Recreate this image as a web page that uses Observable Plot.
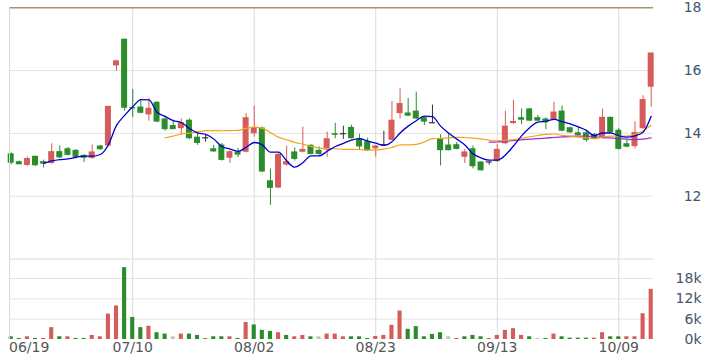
<!DOCTYPE html>
<html><head><meta charset="utf-8">
<script src="https://cdn.jsdelivr.net/npm/d3@7"></script>
<script src="https://cdn.jsdelivr.net/npm/@observablehq/plot@0.6"></script>
<style>
html,body{margin:0;padding:0;background:#fff;}
#chart{width:711px;height:361px;overflow:hidden;position:relative;}
#chart svg{display:block;}
</style></head><body><div id="chart"></div>
<script>
// ---- data ----
const open  = [13.35,13.10,12.98,13.27,13.10,13.04,13.42,13.51,13.46,13.30,13.20,13.60,13.60,16.15,17.00,14.82,14.84,14.59,14.99,14.46,
               14.25,14.15,14.42,13.88,13.86,13.51,13.63,13.21,13.41,13.40,13.99,14.17,12.49,12.26,12.99,13.41,13.40,13.62,13.46,13.47,
               13.99,13.99,14.19,13.83,13.73,13.51,13.64,13.78,14.63,14.65,14.71,14.50,14.34,13.83,13.63,13.64,13.24,13.51,13.09,13.09,
               13.10,13.67,14.31,14.50,14.78,14.50,14.46,14.44,14.71,14.18,14.02,14.02,13.97,13.84,14.51,14.10,13.67,13.58,14.15,15.47];
const high  = [13.38,13.12,13.25,13.28,13.15,13.67,13.60,13.55,13.48,13.32,13.63,13.62,14.86,16.33,17.00,15.40,15.06,15.11,15.01,14.53,
               14.42,14.46,14.46,14.00,13.96,13.62,13.68,13.44,13.52,14.63,14.87,14.20,12.87,13.36,13.60,13.54,14.20,13.64,13.57,14.04,
               14.32,14.23,14.26,13.97,13.85,13.62,14.07,15.02,15.42,15.11,15.31,14.53,14.90,13.95,13.99,13.71,13.49,13.60,13.10,13.09,
               13.65,14.71,15.05,14.78,14.80,14.57,14.50,14.99,14.87,14.20,14.20,14.07,14.00,14.78,14.52,14.16,13.81,14.37,15.20,16.56];
const low   = [13.00,13.00,12.95,12.95,12.90,13.02,13.20,13.28,13.19,13.08,13.18,13.46,13.57,15.98,14.70,14.50,14.62,14.39,14.34,14.07,
               14.12,13.95,13.80,13.62,13.72,13.40,13.12,13.04,13.23,13.38,13.88,12.75,11.71,12.25,12.96,13.12,13.38,13.32,13.30,13.24,
               13.83,13.81,13.82,13.47,13.43,13.24,13.62,13.76,14.46,14.53,14.44,14.25,14.31,12.96,13.44,13.48,13.04,12.87,12.80,12.99,
               13.08,13.65,14.30,14.28,14.38,14.38,14.12,14.42,14.05,14.00,13.92,13.72,13.80,13.82,14.00,13.47,13.54,13.51,14.13,14.83];
const close = [13.05,13.00,13.20,12.97,13.02,13.42,13.22,13.30,13.24,13.21,13.41,13.48,14.86,16.31,14.80,14.78,14.64,14.80,14.36,14.12,
               14.12,14.34,13.83,13.68,13.86,13.41,13.14,13.42,13.31,14.50,14.18,12.77,12.25,13.33,13.10,13.17,13.49,13.33,13.33,13.83,
               13.94,13.99,13.83,13.57,13.45,13.60,13.64,14.42,14.95,14.55,14.46,14.36,14.34,13.45,13.45,13.49,13.41,12.94,12.81,13.09,
               13.49,14.23,14.38,14.42,14.39,14.39,14.34,14.68,14.07,14.02,13.93,13.78,13.82,14.51,14.02,13.49,13.56,14.03,15.08,16.56];
const volume = [800,300,800,300,300,3500,800,800,300,300,1200,800,7500,9900,21200,6500,3500,3900,2000,1600,
                800,1600,1600,1200,300,800,800,800,300,5000,4300,2700,2400,2000,1200,800,1200,800,800,1600,
                1600,800,800,800,300,900,1200,4200,8400,3000,3800,800,1500,2000,800,300,800,1200,800,300,
                1200,2700,3200,1200,800,300,300,1600,800,400,400,400,400,2000,800,800,800,800,7600,14800];
const tickIndex  = [0, 15, 30, 45, 60, 75];
const tickLabels = ["06/19", "07/10", "08/02", "08/23", "09/13", "10/09"];
const priceTicks = [12, 14, 16, 18];
const volumeTicks = [0, 6000, 12000, 18000];
const volumeTickLabels = ["0k", "6k", "12k", "18k"];

// ---- table ----
const rows = close.map((c, i) => ({
  i, open: open[i], high: high[i], low: low[i], close: c, volume: volume[i],
  prev: i > 0 ? close[i - 1] : open[i]
}));
const RED = "#d65b5b", GREEN = "#2a8c2a", DOJI = "#333333", FLAT = "#c4c4c4";
const candleColor = d => d.close > d.open ? RED : d.close < d.open ? GREEN : DOJI;
const volColor = d => d.close > d.prev ? RED : d.close < d.prev ? GREEN : FLAT;
const ma = k => (values) => values.length < k ? NaN : d3.mean(values);

const xScale = {domain: [0, 79], range: [10.7, 650.7], axis: null};
const common = {width: 711, marginLeft: 9, marginRight: 58, color: {type: "identity"},
  style: {fontFamily: "DejaVu Sans", fontSize: "14px", background: "#fff", overflow: "visible"}};

const main = Plot.plot({
  ...common, height: 260, marginTop: 7.3, marginBottom: 1.5,
  x: xScale,
  y: {domain: [10, 18], axis: null},
  marks: [
    Plot.ruleY(priceTicks.filter(t => t < 18), {stroke: "#e2e2e2"}),
    Plot.ruleY([10], {stroke: "#dcdcdc"}),
    Plot.ruleX(tickIndex.slice(1), {stroke: "#dadada"}),
    Plot.ruleY([18], {stroke: "#a8927a", strokeWidth: 1.5}),
    Plot.ruleX(rows, {x: "i", y1: "low", y2: "high", stroke: candleColor, strokeWidth: 1}),
    Plot.rect(rows.filter(d => d.open !== d.close), {
      x1: d => d.i - 0.5, x2: d => d.i + 0.5, insetLeft: 1.05, insetRight: 1.05,
      y1: "open", y2: "close", fill: candleColor}),
    Plot.ruleY(rows.filter(d => d.open === d.close), {
      y: "close", x1: d => d.i - 0.37, x2: d => d.i + 0.37, stroke: DOJI, strokeWidth: 1.2}),
    Plot.lineY(rows, Plot.windowY({k: 60, anchor: "end", reduce: ma(60)}, {x: "i", y: "close", stroke: "#9a32cc", strokeWidth: 1.3, curve: "monotone-x"})),
    Plot.lineY(rows, Plot.windowY({k: 20, anchor: "end", reduce: ma(20)}, {x: "i", y: "close", stroke: "#f5a31a", strokeWidth: 1.2, curve: "monotone-x"})),
    Plot.lineY(rows, Plot.windowY({k: 5, anchor: "end", reduce: ma(5)}, {x: "i", y: "close", stroke: "#0000cc", strokeWidth: 1.3, curve: "monotone-x"})),
    Plot.text(priceTicks, {y: d => d, text: d => String(d), frameAnchor: "right", textAnchor: "end",
      dx: 48, fill: "#44546a", fontSize: 14})
  ]
});

const vol = Plot.plot({
  ...common, height: 101, marginTop: 0, marginBottom: 22,
  x: xScale,
  y: {domain: [0, 18000], range: [79, 18], axis: null},
  marks: [
    Plot.ruleY(volumeTicks.filter(t => t > 0), {stroke: "#e4e4e4"}),
    Plot.ruleX(tickIndex.slice(1), {stroke: "#dadada"}),
    Plot.rect(rows, {x1: d => d.i - 0.5, x2: d => d.i + 0.5, insetLeft: 2, insetRight: 2,
      y1: 0, y2: "volume", fill: volColor}),
    Plot.text(volumeTicks, {y: d => d, text: (d, i) => volumeTickLabels[i], frameAnchor: "right",
      textAnchor: "end", dx: 48, fill: "#44546a", fontSize: 14}),
    Plot.text(tickIndex.slice(0, 1), {x: d => d, text: (d, i) => tickLabels[i], frameAnchor: "bottom",
      dy: 12, dx: -2.2, textAnchor: "start", fill: "#555", fontSize: 14}),
    Plot.text(tickIndex.slice(1), {x: d => d, text: (d, i) => tickLabels[i + 1], frameAnchor: "bottom",
      dy: 12, textAnchor: "middle", fill: "#555", fontSize: 14})
  ]
});

const root = document.getElementById("chart");
root.appendChild(main);
root.appendChild(vol);
// left border of the plotting frame
d3.select(main).append("line").attr("x1", 9.5).attr("x2", 9.5).attr("y1", 7.3).attr("y2", 260).attr("stroke", "#d8d8d8");
d3.select(vol).append("line").attr("x1", 9.5).attr("x2", 9.5).attr("y1", 0).attr("y2", 79).attr("stroke", "#d8d8d8");
</script></body></html>
